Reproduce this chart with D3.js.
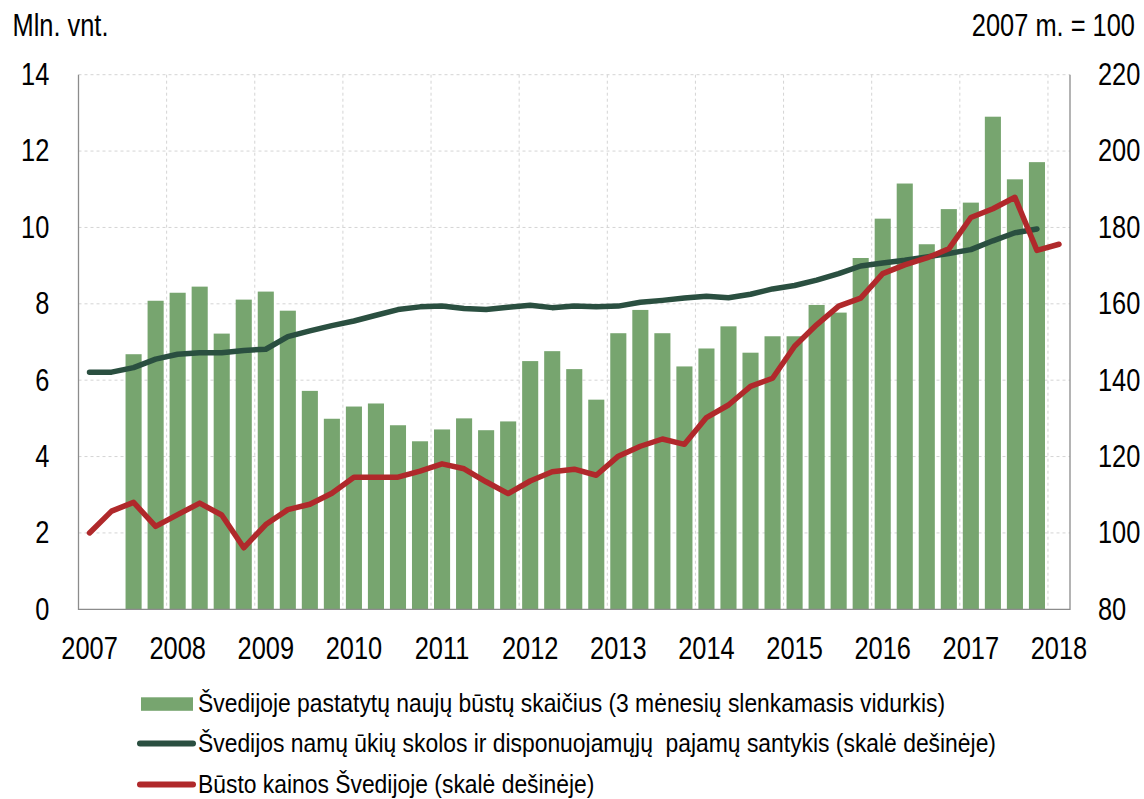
<!DOCTYPE html>
<html>
<head>
<meta charset="utf-8">
<script src="https://cdn.jsdelivr.net/npm/d3@7"></script>
<style>
    body { margin: 0; background: #fff; }
    svg text { font-family: "Liberation Sans", Arial, sans-serif; fill: #000; }
</style>
</head>
<body>
<svg id="chart" width="1144" height="799"></svg>
<script>
// years on the axis, each split into 4 quarters
const years = [2007, 2008, 2009, 2010, 2011, 2012, 2013, 2014, 2015, 2016, 2017, 2018];

// new dwellings, mln. units (3 month moving avg), from 2007 Q3
const dwellings = [
    6.68, 8.08,
    8.29, 8.45, 7.22, 8.11,
    8.32, 7.82, 5.72, 4.99,
    5.31, 5.39, 4.82, 4.40,
    4.71, 5.00, 4.69, 4.92,
    6.50, 6.76, 6.29, 5.49,
    7.23, 7.84, 7.23, 6.36,
    6.83, 7.41, 6.72, 7.15,
    7.15, 7.97, 7.77, 9.20,
    10.23, 11.15, 9.56, 10.48,
    10.65, 12.90, 11.26, 11.71
];
const dwellingsStart = 2; // first bar is 2007 Q3

// household debt to disposable income, 2007 = 100, from 2007 Q1
const debtRatio = [
    142.1, 142.1, 143.3, 145.5,
    146.8, 147.2, 147.2, 147.8,
    148.1, 151.4, 152.9, 154.3,
    155.5, 157.0, 158.5, 159.2,
    159.4, 158.8, 158.5, 159.1,
    159.6, 159.0, 159.4, 159.2,
    159.4, 160.4, 160.9, 161.5,
    162.0, 161.6, 162.5, 163.9,
    164.8, 166.2, 167.9, 169.9,
    170.7, 171.4, 172.3, 173.2,
    174.2, 176.5, 178.6, 179.6
];

// house prices, 2007 = 100, from 2007 Q1
const housePrices = [
    100.0, 105.7, 108.0, 101.7,
    104.8, 107.8, 104.7, 96.1,
    102.2, 106.1, 107.5, 110.4,
    114.6, 114.6, 114.6, 116.2,
    118.1, 116.8, 113.4, 110.3,
    113.6, 116.0, 116.7, 115.1,
    120.1, 122.7, 124.6, 123.2,
    130.2, 133.5, 138.4, 140.5,
    148.9, 154.5, 159.4, 161.5,
    167.9, 170.2, 172.0, 174.4,
    182.6, 184.9, 187.9, 174.0,
    175.6
];

const leftTicks = [0, 2, 4, 6, 8, 10, 12, 14];
const rightTicks = [80, 100, 120, 140, 160, 180, 200, 220];

const legendLabels = [
    "Švedijoje pastatytų naujų būstų skaičius (3 mėnesių slenkamasis vidurkis)",
    "Švedijos namų ūkių skolos ir disponuojamųjų  pajamų santykis (skalė dešinėje)",
    "Būsto kainos Švedijoje (skalė dešinėje)"
];

const colors = { bar: "#77a56f", debt: "#2a4f40", price: "#b0292b", grid: "#d4d4d4", axis: "#8c8c8c" };

// 2007 Q1 .. 2018 Q1
const quarters = years.flatMap(y => [1, 2, 3, 4].map(q => y + "Q" + q)).slice(0, 45);

const margin = { top: 74.7, left: 78.5, right: 74, bottom: 189.7 };
const width = 1144 - margin.left - margin.right,
    height = 799 - margin.top - margin.bottom;

// no narrow font installed, so squeeze text horizontally around its anchor x
function condense(sel, k) {
    sel.each(function () {
        const t = d3.select(this);
        const ax = +(t.attr("x") || 0);
        t.attr("transform", `translate(${ax},0) scale(${k},1) translate(${-ax},0)`);
    });
}

const svg = d3.select("#chart");
const g = svg.append("g")
    .attr("transform", `translate(${margin.left}, ${margin.top})`);

const x = d3.scaleBand().domain(quarters).range([0, width]).paddingInner(0).paddingOuter(0);
const yL = d3.scaleLinear().domain([0, 14]).range([height, 0]);
const yR = d3.scaleLinear().domain([80, 220]).range([height, 0]);

// grid
g.selectAll("line.hgrid").data(leftTicks.slice(1))
    .join("line")
    .attr("x1", 0).attr("x2", width)
    .attr("y1", d => yL(d)).attr("y2", d => yL(d))
    .attr("stroke", colors.grid).attr("stroke-dasharray", "3,3");
g.selectAll("line.vgrid").data(years.slice(1))
    .join("line")
    .attr("x1", d => x(d + "Q1")).attr("x2", d => x(d + "Q1"))
    .attr("y1", 0).attr("y2", height)
    .attr("stroke", colors.grid).attr("stroke-dasharray", "3,3");

// bars
const barW = x.bandwidth() * 0.73;
g.selectAll("rect.bar").data(dwellings)
    .join("rect")
    .attr("x", (d, i) => x(quarters[i + dwellingsStart]) + (x.bandwidth() - barW) / 2)
    .attr("width", barW)
    .attr("y", d => yL(d))
    .attr("height", d => height - yL(d))
    .attr("fill", colors.bar);

// lines on right scale
const line = d3.line()
    .x((d, i) => x(quarters[i]) + x.bandwidth() / 2)
    .y(d => yR(d));

g.append("path").datum(debtRatio)
    .attr("d", line)
    .attr("fill", "none").attr("stroke", colors.debt)
    .attr("stroke-width", 5.5).attr("stroke-linejoin", "round").attr("stroke-linecap", "round");
g.append("path").datum(housePrices)
    .attr("d", line)
    .attr("fill", "none").attr("stroke", colors.price)
    .attr("stroke-width", 5.5).attr("stroke-linejoin", "round").attr("stroke-linecap", "round");

// axis frame
g.append("path")
    .attr("d", `M0,0V${height}H${width}V0`)
    .attr("fill", "none").attr("stroke", colors.axis).attr("stroke-width", 1.3);

// axes
const fontSize = "31px";
const axL = g.append("g")
    .call(d3.axisLeft(yL).tickValues(leftTicks).tickSize(0).tickPadding(29.2));
const axR = g.append("g")
    .attr("transform", `translate(${width}, 0)`)
    .call(d3.axisRight(yR).tickValues(rightTicks).tickSize(0).tickPadding(28));
const axX = g.append("g")
    .attr("transform", `translate(0, ${height})`)
    .call(d3.axisBottom(x).tickValues(years.map(y => y + "Q1")).tickFormat(d => d.slice(0, 4)).tickSize(0).tickPadding(27.5));
[axL, axR, axX].forEach(a => {
    a.select(".domain").remove();
    a.selectAll("text").style("font-size", fontSize).attr("fill", "#000").call(condense, 0.82);
});

// units
svg.append("text").attr("x", 12.5).attr("y", 36).style("font-size", fontSize).text("Mln. vnt.").call(condense, 0.82);
svg.append("text").attr("x", 1135).attr("y", 36).attr("text-anchor", "end").style("font-size", fontSize).text("2007 m. = 100").call(condense, 0.82);

// legend
const legend = svg.append("g").attr("transform", "translate(138, 0)");
legend.append("rect").attr("x", 3).attr("y", 697.3).attr("width", 52).attr("height", 13.5).attr("fill", colors.bar);
[colors.debt, colors.price].forEach((c, i) => {
    legend.append("line")
        .attr("x1", 2).attr("x2", 55)
        .attr("y1", 743.5 + i * 41).attr("y2", 743.5 + i * 41)
        .attr("stroke", c).attr("stroke-width", 6).attr("stroke-linecap", "round");
});
legend.selectAll("text.leg").data(legendLabels)
    .join("text")
    .attr("x", 60)
    .attr("y", (d, i) => 702.6 + i * 40.7)
    .attr("dy", "0.35em")
    .style("font-size", "26px")
    .style("white-space", "pre")
    .text(d => d)
    .call(condense, 0.88);
</script>
</body>
</html>
